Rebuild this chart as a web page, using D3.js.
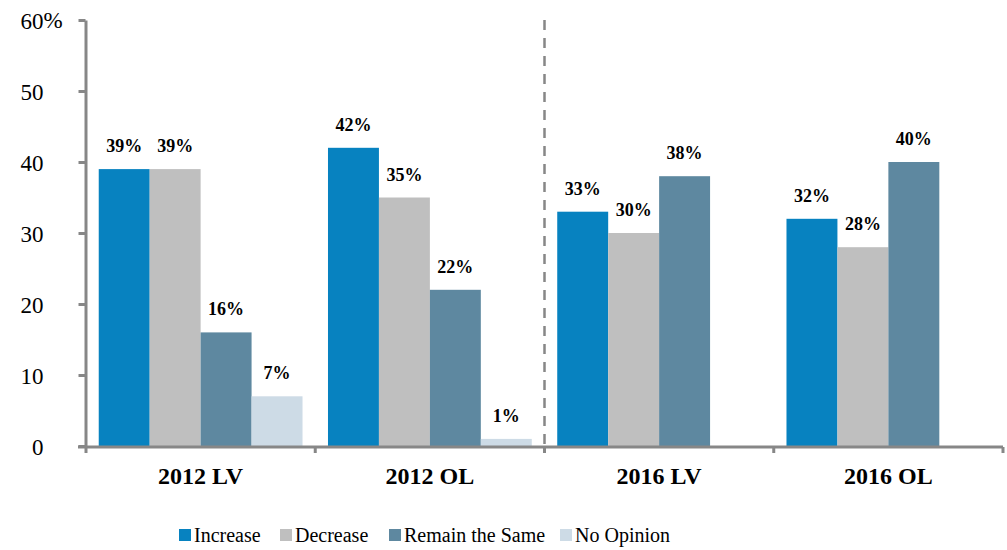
<!DOCTYPE html>
<html>
<head>
<meta charset="utf-8">
<script src="https://cdn.jsdelivr.net/npm/d3@7"></script>
<style>
  body { margin: 0; background: #fff; }
</style>
</head>
<body>
<script>
// chart data
var categories = ["2012 LV", "2012 OL", "2016 LV", "2016 OL"];
var seriesNames = ["Increase", "Decrease", "Remain the Same", "No Opinion"];
var increase = [39, 42, 33, 32];
var decrease = [39, 35, 30, 28];
var remainSame = [16, 22, 38, 40];
var noOpinion = [7, 1, null, null];
var yTicks = [0, 10, 20, 30, 40, 50, 60];

var colors = ["#0782C0", "#BFBFBF", "#5E88A0", "#CDDBE6"];
var seriesValues = [increase, decrease, remainSame, noOpinion];
var serif = "'Liberation Serif', 'DejaVu Serif', serif";

var width = 1007, height = 550;
var svg = d3.select("body").append("svg")
    .attr("width", width).attr("height", height)
    .style("font-family", serif);

var x0 = d3.scaleBand().domain(categories).range([86, 1003]).padding(0);
var x1 = d3.scaleBand().domain(seriesNames).range([0, x0.bandwidth()])
    .paddingInner(0).paddingOuter(0.25);
var y = d3.scaleLinear().domain([0, 60]).range([446, 20]);

// bars
categories.forEach(function(cat, i) {
  var g = svg.append("g").attr("transform", "translate(" + x0(cat) + ",0)");
  seriesNames.forEach(function(s, j) {
    var v = seriesValues[j][i];
    if (v == null) return;
    g.append("rect")
      .attr("x", x1(s)).attr("width", x1.bandwidth())
      .attr("y", y(v)).attr("height", y(0) - y(v))
      .attr("fill", colors[j]);
    g.append("text")
      .attr("x", x1(s) + x1.bandwidth() / 2)
      .attr("y", y(v) - 17)
      .attr("text-anchor", "middle")
      .style("font-family", serif)
      .style("font-size", "18px").style("font-weight", "bold")
      .text(v + "%");
  });
});

// y axis
var yAxis = svg.append("g").attr("transform", "translate(85.5,0)")
  .call(d3.axisLeft(y).tickValues(yTicks).tickSizeInner(7).tickSizeOuter(0).tickFormat(d3.format("d")));
yAxis.select(".domain").attr("stroke", "#878787").attr("stroke-width", 3);
yAxis.selectAll(".tick line").attr("stroke", "#878787").attr("stroke-width", 3);
yAxis.selectAll(".tick text")
  .attr("x", -42).attr("dy", "0.35em").attr("fill", "#000")
  .style("font-size", "23px").style("font-family", serif);
svg.append("text").attr("x", 43.5).attr("y", y(60)).attr("dy", "0.35em")
  .style("font-family", serif).style("font-size", "23px").text("%");

// x axis
var xAxis = svg.append("g").attr("transform", "translate(0,447)");
xAxis.append("line").attr("x1", 78).attr("x2", 1003).attr("y1", 0).attr("y2", 0)
  .attr("stroke", "#878787").attr("stroke-width", 3);
var bounds = categories.map(function(c) { return x0(c); }).concat([x0.range()[1]]);
xAxis.selectAll(".xt").data(bounds).enter().append("line")
  .attr("x1", function(d) { return d; }).attr("x2", function(d) { return d; })
  .attr("y1", 0).attr("y2", 6)
  .attr("stroke", "#878787").attr("stroke-width", 3);
svg.selectAll(".catlabel").data(categories).enter().append("text")
  .attr("x", function(d) { return x0(d) + x0.bandwidth() / 2; })
  .attr("y", 484)
  .attr("text-anchor", "middle")
  .style("font-family", serif)
  .style("font-size", "24px").style("font-weight", "bold")
  .text(function(d) { return d; });

// dashed divider between 2012 and 2016
svg.append("line")
  .attr("x1", x0("2016 LV")).attr("x2", x0("2016 LV"))
  .attr("y1", y(60)).attr("y2", y(0))
  .attr("stroke", "#878787").attr("stroke-width", 2.5)
  .attr("stroke-dasharray", "10,8");

// legend
var legendX = [179, 280, 389, 560];
var legend = svg.selectAll(".leg").data(seriesNames).enter().append("g")
  .attr("transform", function(d, i) { return "translate(" + legendX[i] + ",529)"; });
legend.append("rect").attr("width", 12).attr("height", 12)
  .attr("fill", function(d, i) { return colors[i]; });
legend.append("text").attr("x", 15).attr("y", 6).attr("dy", "0.35em")
  .style("font-family", serif)
  .style("font-size", "20px")
  .text(function(d) { return d; });
</script>
</body>
</html>
